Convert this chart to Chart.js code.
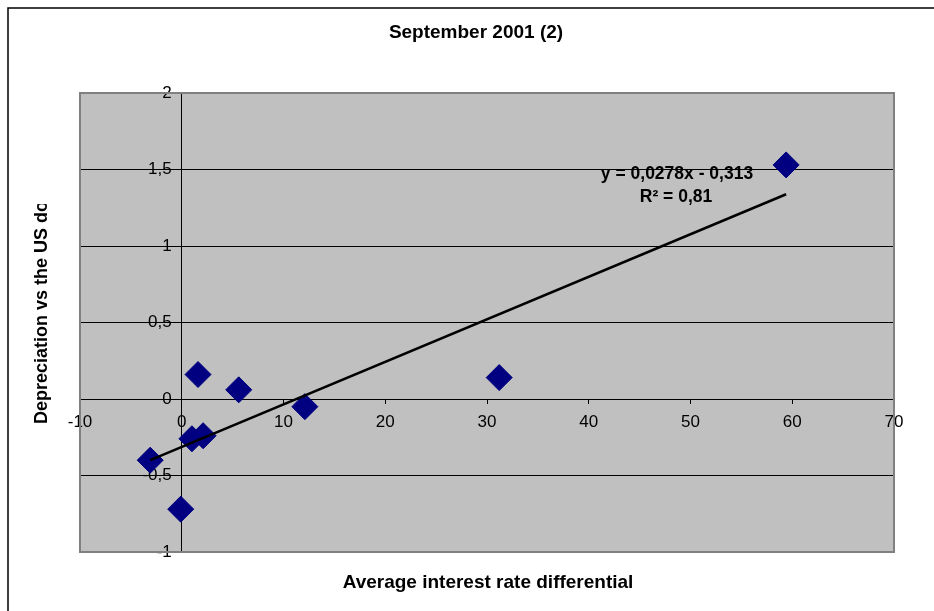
<!DOCTYPE html>
<html>
<head>
<meta charset="utf-8">
<script src="https://cdn.jsdelivr.net/npm/chart.js@4.4.1/dist/chart.umd.min.js"></script>
<style>
  html, body { margin: 0; padding: 0; background: #fff; }
  #wrap { width: 934px; height: 611px; }
</style>
</head>
<body>
<div id="wrap"><canvas id="c" width="934" height="611"></canvas></div>
<script>
// Labels
const chartTitle = 'September 2001 (2)';
const xAxisTitle = 'Average interest rate differential';
const yAxisTitle = 'Depreciation vs the US dollar';
const trendLabel = 'y = 0,0278x - 0,313';
const r2Label = 'R² = 0,81';

// Observations: interest rate differential vs depreciation
const rateDifferential = [59.4, 31.2, 12.1, 5.6, 1.6, 1.0, 2.1, -3.1, -0.1];
const depreciation     = [1.53, 0.14, -0.05, 0.06, 0.16, -0.26, -0.24, -0.40, -0.72];

// Linear trend as given by the equation label
const trendSlope = 0.0278;
const trendIntercept = -0.313;

// Tick labels (decimal comma)
const xTickLabels = ['-10', '0', '10', '20', '30', '40', '50', '60', '70'];
const yTickLabels = ['-1', '-0,5', '0', '0,5', '1', '1,5', '2'];

const FONT = '"Liberation Sans", Arial, sans-serif';
const Y_LABEL_GAP = 10;

const points = rateDifferential.map((x, i) => ({ x, y: depreciation[i] }));
const xMin = Math.min(...rateDifferential);
const xMax = Math.max(...rateDifferential);
const trendPoints = [xMin, xMax].map(x => ({ x, y: trendSlope * x + trendIntercept }));

const noPadding = s => { s.paddingLeft = 0; s.paddingRight = 0; s.paddingTop = 0; s.paddingBottom = 0; };

const frame = {
  id: 'frame',
  beforeDraw(chart) {
    const { ctx, chartArea: a, width, height } = chart;
    // keep the value labels clear of the crossing vertical axis
    const items = chart.scales.y.getLabelItems(a);
    items.forEach(it => {
      if (!it._shifted) {
        it.options.translation[0] -= Y_LABEL_GAP;
        it._shifted = true;
      }
    });
    ctx.save();
    ctx.fillStyle = '#fff';
    ctx.fillRect(0, 0, width, height);
    ctx.strokeStyle = '#000';
    ctx.lineWidth = 1.5;
    ctx.beginPath();
    ctx.moveTo(8, height);
    ctx.lineTo(8, 8);
    ctx.lineTo(width, 8);
    ctx.stroke();
    ctx.fillStyle = '#c0c0c0';
    ctx.fillRect(a.left, a.top, a.right - a.left, a.bottom - a.top);
    ctx.restore();
  },
  beforeDatasetsDraw(chart) {
    const { ctx, chartArea: a } = chart;
    ctx.save();
    ctx.strokeStyle = '#808080';
    ctx.lineWidth = 2;
    ctx.strokeRect(a.left, a.top, a.right - a.left, a.bottom - a.top);
    ctx.restore();
  },
  afterDraw(chart) {
    const { ctx } = chart;
    ctx.save();
    ctx.fillStyle = '#000';
    ctx.textAlign = 'center';
    ctx.textBaseline = 'middle';
    ctx.font = 'bold 19px ' + FONT;
    ctx.fillText(chartTitle, 476, 33);
    ctx.fillText(xAxisTitle, 488, 583);
    ctx.font = 'bold 17.5px ' + FONT;
    ctx.fillText(trendLabel, 677, 174);
    ctx.fillText(r2Label, 676, 197);
    // vertical axis title, cut off at the top of its box
    ctx.save();
    ctx.beginPath();
    ctx.rect(0, 204, 90, 260);
    ctx.clip();
    ctx.translate(42, 424);
    ctx.rotate(-Math.PI / 2);
    ctx.textAlign = 'left';
    ctx.font = 'bold 18px ' + FONT;
    ctx.fillText(yAxisTitle, 0, 0);
    ctx.restore();
    ctx.restore();
  }
};

new Chart(document.getElementById('c'), {
  data: {
    datasets: [
      {
        type: 'line',
        data: trendPoints,
        borderColor: '#000',
        borderWidth: 2.5,
        pointRadius: 0,
        fill: false,
        tension: 0
      },
      {
        type: 'scatter',
        data: points,
        pointStyle: 'rectRot',
        pointRadius: 13,
        pointHoverRadius: 13,
        backgroundColor: '#000080',
        borderColor: '#000080',
        borderWidth: 1
      }
    ]
  },
  options: {
    responsive: false,
    animation: false,
    events: [],
    layout: { padding: { left: 80, right: 40, top: 93, bottom: 59 } },
    plugins: {
      legend: { display: false },
      tooltip: { enabled: false },
      title: { display: false }
    },
    scales: {
      x: {
        type: 'linear',
        min: -10,
        max: 70,
        position: { y: 0 },
        afterFit: noPadding,
        border: { display: true, color: '#000', width: 1 },
        grid: { drawOnChartArea: false, drawTicks: true, tickLength: 4, tickColor: '#000' },
        ticks: {
          stepSize: 10,
          padding: 9,
          color: '#000',
          font: { family: FONT, size: 17 },
          callback: (v, i) => xTickLabels[i]
        }
      },
      y: {
        type: 'linear',
        min: -1,
        max: 2,
        position: { x: 0 },
        afterFit: noPadding,
        border: { display: true, color: '#000', width: 1 },
        grid: {
          drawOnChartArea: true,
          drawTicks: true,
          tickLength: 4,
          tickColor: '#000',
          color: c => (c.tick && (c.tick.value === 2 || c.tick.value === -1)) ? 'rgba(0,0,0,0)' : '#000'
        },
        ticks: {
          stepSize: 0.5,
          padding: 6,
          color: '#000',
          font: { family: FONT, size: 17 },
          callback: (v, i) => yTickLabels[i]
        }
      }
    }
  },
  plugins: [frame]
});
</script>
</body>
</html>
